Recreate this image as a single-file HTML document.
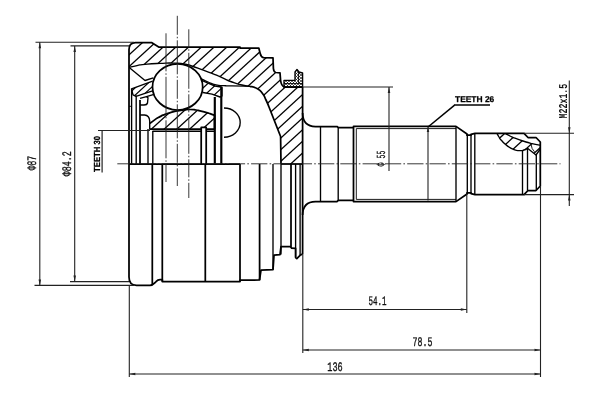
<!DOCTYPE html>
<html lang="en"><head><meta charset="utf-8"><title>CV joint drawing</title><style>html,body{margin:0;padding:0;background:#fff;}body{width:600px;height:400px;overflow:hidden;}svg{display:block;filter:grayscale(1);}</style></head><body>
<svg width="600" height="400" viewBox="0 0 600 400" stroke-linecap="butt" stroke-linejoin="round" text-rendering="geometricPrecision"><defs><clipPath id="h1"><path d="M129,67.5 L129,49.5 C129,45 131,42.5 135.5,42.5 L151.5,42.5 L158.7,47 L240,47 L240,48 L258.8,48 L260.2,53.5 Q261,57 263.5,57.6 L273,57.8 L273.4,68.5 Q273.8,72.2 276,72.5 L280,72.8 L280.6,80.5 Q281.3,85.5 284,87 L302.6,87 L302.6,164 L281,164 L280.60,136.50 L269.00,107.00 L266.00,100.00 L262.50,93.50 L257.00,88.50 L250.00,86.30 L242.00,85.00 L232.00,82.00 L222.00,77.60 L215.00,74.60 L203.30,70.20 L191.70,66.00 L184.00,64.00 L174.00,63.10 L160.00,63.40 L145.00,64.40 L137.00,65.60 L129.00,67.50 Z"/></clipPath><clipPath id="h2"><path d="M150.00,123.50 C151.67,122.20 151.67,121.90 155.00,119.60 C158.33,117.30 156.67,118.33 160.00,116.60 C163.33,114.87 161.33,115.80 165.00,114.40 C168.67,113.00 167.00,113.53 171.00,112.40 C175.00,111.27 172.67,111.83 177.00,111.00 C181.33,110.17 179.67,110.40 184.00,109.90 C188.33,109.40 186.00,109.47 190.00,109.50 C194.00,109.53 192.67,109.53 196.00,110.00 C199.33,110.47 197.00,110.20 200.00,110.90 C203.00,111.60 201.67,111.20 205.00,112.10 C208.33,113.00 206.83,112.53 210.00,113.60 C213.17,114.67 213.00,114.73 214.50,115.30 L214.5,129 L150,129 Z"/></clipPath><clipPath id="h3"><path d="M131.5,88.8 L152.6,81.2 L152.1,86 L152.5,90.8 L136,96.4 L133,94.8 Z"/></clipPath><clipPath id="h4"><path d="M201.8,80.3 L208,83.2 L215,86 L221,87 L222,87.5 L222,96.5 L220,97 L212,94.2 L203,92.5 Z"/></clipPath><clipPath id="h5"><path d="M497.00,133.50 C497.67,134.67 497.57,134.73 499.00,137.00 C500.43,139.27 498.63,137.43 501.30,140.30 C503.97,143.17 502.77,142.50 507.00,145.60 C511.23,148.70 509.67,147.93 514.00,149.60 C518.33,151.27 516.67,150.47 520.00,150.60 C523.33,150.73 521.50,150.77 524.00,150.00 C526.50,149.23 526.33,148.87 527.50,148.30 L536,155 L540.3,149 L540.3,145.2 L532.00,143.60 L523.00,141.00 L515.00,138.10 L510.00,136.00 L505.00,133.50 Z"/></clipPath><clipPath id="h6"><path d="M284,80.3 L295,80.3 L295,72 L297,69.5 L299,72 L302.6,73 L302.6,87 L284,87 Z"/></clipPath></defs><rect width="600" height="400" fill="#fff"/><g clip-path="url(#h1)" stroke="#000" stroke-width="1.3" fill="none"><line x1="-71.05" y1="180.00" x2="92.45" y2="30.00"/><line x1="-58.30" y1="180.00" x2="105.20" y2="30.00"/><line x1="-45.55" y1="180.00" x2="117.95" y2="30.00"/><line x1="-32.80" y1="180.00" x2="130.70" y2="30.00"/><line x1="-20.05" y1="180.00" x2="143.45" y2="30.00"/><line x1="-7.30" y1="180.00" x2="156.20" y2="30.00"/><line x1="5.45" y1="180.00" x2="168.95" y2="30.00"/><line x1="18.20" y1="180.00" x2="181.70" y2="30.00"/><line x1="30.95" y1="180.00" x2="194.45" y2="30.00"/><line x1="43.70" y1="180.00" x2="207.20" y2="30.00"/><line x1="56.45" y1="180.00" x2="219.95" y2="30.00"/><line x1="69.20" y1="180.00" x2="232.70" y2="30.00"/><line x1="81.95" y1="180.00" x2="245.45" y2="30.00"/><line x1="94.70" y1="180.00" x2="258.20" y2="30.00"/><line x1="107.45" y1="180.00" x2="270.95" y2="30.00"/><line x1="120.20" y1="180.00" x2="283.70" y2="30.00"/><line x1="132.95" y1="180.00" x2="296.45" y2="30.00"/><line x1="145.70" y1="180.00" x2="309.20" y2="30.00"/><line x1="158.45" y1="180.00" x2="321.95" y2="30.00"/><line x1="171.20" y1="180.00" x2="334.70" y2="30.00"/><line x1="183.95" y1="180.00" x2="347.45" y2="30.00"/><line x1="196.70" y1="180.00" x2="360.20" y2="30.00"/><line x1="209.45" y1="180.00" x2="372.95" y2="30.00"/><line x1="222.20" y1="180.00" x2="385.70" y2="30.00"/><line x1="234.95" y1="180.00" x2="398.45" y2="30.00"/><line x1="247.70" y1="180.00" x2="411.20" y2="30.00"/><line x1="260.45" y1="180.00" x2="423.95" y2="30.00"/><line x1="273.20" y1="180.00" x2="436.70" y2="30.00"/><line x1="285.95" y1="180.00" x2="449.45" y2="30.00"/><line x1="298.70" y1="180.00" x2="462.20" y2="30.00"/><line x1="311.45" y1="180.00" x2="474.95" y2="30.00"/><line x1="324.20" y1="180.00" x2="487.70" y2="30.00"/></g>
<g clip-path="url(#h2)" stroke="#000" stroke-width="1.3" fill="none"><line x1="-69.80" y1="180.00" x2="93.70" y2="30.00"/><line x1="-57.05" y1="180.00" x2="106.45" y2="30.00"/><line x1="-44.30" y1="180.00" x2="119.20" y2="30.00"/><line x1="-31.55" y1="180.00" x2="131.95" y2="30.00"/><line x1="-18.80" y1="180.00" x2="144.70" y2="30.00"/><line x1="-6.05" y1="180.00" x2="157.45" y2="30.00"/><line x1="6.70" y1="180.00" x2="170.20" y2="30.00"/><line x1="19.45" y1="180.00" x2="182.95" y2="30.00"/><line x1="32.20" y1="180.00" x2="195.70" y2="30.00"/><line x1="44.95" y1="180.00" x2="208.45" y2="30.00"/><line x1="57.70" y1="180.00" x2="221.20" y2="30.00"/><line x1="70.45" y1="180.00" x2="233.95" y2="30.00"/><line x1="83.20" y1="180.00" x2="246.70" y2="30.00"/><line x1="95.95" y1="180.00" x2="259.45" y2="30.00"/><line x1="108.70" y1="180.00" x2="272.20" y2="30.00"/><line x1="121.45" y1="180.00" x2="284.95" y2="30.00"/><line x1="134.20" y1="180.00" x2="297.70" y2="30.00"/><line x1="146.95" y1="180.00" x2="310.45" y2="30.00"/><line x1="159.70" y1="180.00" x2="323.20" y2="30.00"/><line x1="172.45" y1="180.00" x2="335.95" y2="30.00"/><line x1="185.20" y1="180.00" x2="348.70" y2="30.00"/><line x1="197.95" y1="180.00" x2="361.45" y2="30.00"/><line x1="210.70" y1="180.00" x2="374.20" y2="30.00"/><line x1="223.45" y1="180.00" x2="386.95" y2="30.00"/><line x1="236.20" y1="180.00" x2="399.70" y2="30.00"/><line x1="248.95" y1="180.00" x2="412.45" y2="30.00"/><line x1="261.70" y1="180.00" x2="425.20" y2="30.00"/><line x1="274.45" y1="180.00" x2="437.95" y2="30.00"/><line x1="287.20" y1="180.00" x2="450.70" y2="30.00"/><line x1="299.95" y1="180.00" x2="463.45" y2="30.00"/><line x1="312.70" y1="180.00" x2="476.20" y2="30.00"/><line x1="325.45" y1="180.00" x2="488.95" y2="30.00"/></g>
<g clip-path="url(#h3)" stroke="#000" stroke-width="1.2" fill="none"><line x1="-68.50" y1="180.00" x2="93.50" y2="30.00"/><line x1="-60.50" y1="180.00" x2="101.50" y2="30.00"/><line x1="-52.50" y1="180.00" x2="109.50" y2="30.00"/><line x1="-44.50" y1="180.00" x2="117.50" y2="30.00"/><line x1="-36.50" y1="180.00" x2="125.50" y2="30.00"/><line x1="-28.50" y1="180.00" x2="133.50" y2="30.00"/><line x1="-20.50" y1="180.00" x2="141.50" y2="30.00"/><line x1="-12.50" y1="180.00" x2="149.50" y2="30.00"/><line x1="-4.50" y1="180.00" x2="157.50" y2="30.00"/><line x1="3.50" y1="180.00" x2="165.50" y2="30.00"/><line x1="11.50" y1="180.00" x2="173.50" y2="30.00"/><line x1="19.50" y1="180.00" x2="181.50" y2="30.00"/><line x1="27.50" y1="180.00" x2="189.50" y2="30.00"/><line x1="35.50" y1="180.00" x2="197.50" y2="30.00"/><line x1="43.50" y1="180.00" x2="205.50" y2="30.00"/><line x1="51.50" y1="180.00" x2="213.50" y2="30.00"/><line x1="59.50" y1="180.00" x2="221.50" y2="30.00"/><line x1="67.50" y1="180.00" x2="229.50" y2="30.00"/><line x1="75.50" y1="180.00" x2="237.50" y2="30.00"/><line x1="83.50" y1="180.00" x2="245.50" y2="30.00"/><line x1="91.50" y1="180.00" x2="253.50" y2="30.00"/><line x1="99.50" y1="180.00" x2="261.50" y2="30.00"/><line x1="107.50" y1="180.00" x2="269.50" y2="30.00"/><line x1="115.50" y1="180.00" x2="277.50" y2="30.00"/><line x1="123.50" y1="180.00" x2="285.50" y2="30.00"/><line x1="131.50" y1="180.00" x2="293.50" y2="30.00"/><line x1="139.50" y1="180.00" x2="301.50" y2="30.00"/><line x1="147.50" y1="180.00" x2="309.50" y2="30.00"/><line x1="155.50" y1="180.00" x2="317.50" y2="30.00"/><line x1="163.50" y1="180.00" x2="325.50" y2="30.00"/><line x1="171.50" y1="180.00" x2="333.50" y2="30.00"/><line x1="179.50" y1="180.00" x2="341.50" y2="30.00"/><line x1="187.50" y1="180.00" x2="349.50" y2="30.00"/><line x1="195.50" y1="180.00" x2="357.50" y2="30.00"/><line x1="203.50" y1="180.00" x2="365.50" y2="30.00"/><line x1="211.50" y1="180.00" x2="373.50" y2="30.00"/><line x1="219.50" y1="180.00" x2="381.50" y2="30.00"/><line x1="227.50" y1="180.00" x2="389.50" y2="30.00"/><line x1="235.50" y1="180.00" x2="397.50" y2="30.00"/><line x1="243.50" y1="180.00" x2="405.50" y2="30.00"/><line x1="251.50" y1="180.00" x2="413.50" y2="30.00"/><line x1="259.50" y1="180.00" x2="421.50" y2="30.00"/><line x1="267.50" y1="180.00" x2="429.50" y2="30.00"/><line x1="275.50" y1="180.00" x2="437.50" y2="30.00"/><line x1="283.50" y1="180.00" x2="445.50" y2="30.00"/><line x1="291.50" y1="180.00" x2="453.50" y2="30.00"/><line x1="299.50" y1="180.00" x2="461.50" y2="30.00"/><line x1="307.50" y1="180.00" x2="469.50" y2="30.00"/><line x1="315.50" y1="180.00" x2="477.50" y2="30.00"/><line x1="323.50" y1="180.00" x2="485.50" y2="30.00"/></g>
<g clip-path="url(#h4)" stroke="#000" stroke-width="1.2" fill="none"><line x1="-65.60" y1="180.00" x2="96.40" y2="30.00"/><line x1="-56.20" y1="180.00" x2="105.80" y2="30.00"/><line x1="-46.80" y1="180.00" x2="115.20" y2="30.00"/><line x1="-37.40" y1="180.00" x2="124.60" y2="30.00"/><line x1="-28.00" y1="180.00" x2="134.00" y2="30.00"/><line x1="-18.60" y1="180.00" x2="143.40" y2="30.00"/><line x1="-9.20" y1="180.00" x2="152.80" y2="30.00"/><line x1="0.20" y1="180.00" x2="162.20" y2="30.00"/><line x1="9.60" y1="180.00" x2="171.60" y2="30.00"/><line x1="19.00" y1="180.00" x2="181.00" y2="30.00"/><line x1="28.40" y1="180.00" x2="190.40" y2="30.00"/><line x1="37.80" y1="180.00" x2="199.80" y2="30.00"/><line x1="47.20" y1="180.00" x2="209.20" y2="30.00"/><line x1="56.60" y1="180.00" x2="218.60" y2="30.00"/><line x1="66.00" y1="180.00" x2="228.00" y2="30.00"/><line x1="75.40" y1="180.00" x2="237.40" y2="30.00"/><line x1="84.80" y1="180.00" x2="246.80" y2="30.00"/><line x1="94.20" y1="180.00" x2="256.20" y2="30.00"/><line x1="103.60" y1="180.00" x2="265.60" y2="30.00"/><line x1="113.00" y1="180.00" x2="275.00" y2="30.00"/><line x1="122.40" y1="180.00" x2="284.40" y2="30.00"/><line x1="131.80" y1="180.00" x2="293.80" y2="30.00"/><line x1="141.20" y1="180.00" x2="303.20" y2="30.00"/><line x1="150.60" y1="180.00" x2="312.60" y2="30.00"/><line x1="160.00" y1="180.00" x2="322.00" y2="30.00"/><line x1="169.40" y1="180.00" x2="331.40" y2="30.00"/><line x1="178.80" y1="180.00" x2="340.80" y2="30.00"/><line x1="188.20" y1="180.00" x2="350.20" y2="30.00"/><line x1="197.60" y1="180.00" x2="359.60" y2="30.00"/><line x1="207.00" y1="180.00" x2="369.00" y2="30.00"/><line x1="216.40" y1="180.00" x2="378.40" y2="30.00"/><line x1="225.80" y1="180.00" x2="387.80" y2="30.00"/><line x1="235.20" y1="180.00" x2="397.20" y2="30.00"/><line x1="244.60" y1="180.00" x2="406.60" y2="30.00"/><line x1="254.00" y1="180.00" x2="416.00" y2="30.00"/><line x1="263.40" y1="180.00" x2="425.40" y2="30.00"/><line x1="272.80" y1="180.00" x2="434.80" y2="30.00"/><line x1="282.20" y1="180.00" x2="444.20" y2="30.00"/><line x1="291.60" y1="180.00" x2="453.60" y2="30.00"/><line x1="301.00" y1="180.00" x2="463.00" y2="30.00"/><line x1="310.40" y1="180.00" x2="472.40" y2="30.00"/><line x1="319.80" y1="180.00" x2="481.80" y2="30.00"/><line x1="329.20" y1="180.00" x2="491.20" y2="30.00"/></g>
<path d="M129,164 L129,49.5 C129,45 131,42.5 135.5,42.5 L151.5,42.5 L158.7,47 L240,47 L240,48 L258.8,48 L260.2,53.5 Q261,57 263.5,57.6 L273,57.8 L273.4,68.5 Q273.8,72.2 276,72.5 L280,72.8 L280.6,80.5 Q281.3,85.5 284,87 L302.6,87" fill="none" stroke="#000" stroke-width="1.75" />
<path d="M129.00,67.50 C131.67,66.87 131.67,66.63 137.00,65.60 C142.33,64.57 137.33,65.13 145.00,64.40 C152.67,63.67 150.33,63.83 160.00,63.40 C169.67,62.97 166.00,62.90 174.00,63.10 C182.00,63.30 178.10,63.03 184.00,64.00 C189.90,64.97 185.27,63.93 191.70,66.00 C198.13,68.07 195.53,67.33 203.30,70.20 C211.07,73.07 208.77,72.13 215.00,74.60 C221.23,77.07 216.33,75.13 222.00,77.60 C227.67,80.07 225.33,79.53 232.00,82.00 C238.67,84.47 236.00,83.57 242.00,85.00 C248.00,86.43 247.33,85.87 250.00,86.30" fill="none" stroke="#000" stroke-width="1.35" />
<path d="M250.00,86.30 C252.33,87.03 252.83,86.10 257.00,88.50 C261.17,90.90 259.50,89.67 262.50,93.50 C265.50,97.33 263.83,95.50 266.00,100.00 C268.17,104.50 268.00,104.67 269.00,107.00 L280.60,136.50 L281.00,164.00" fill="none" stroke="#000" stroke-width="1.75" />
<path d="M200.50,78.30 C203.00,79.53 202.83,79.80 208.00,82.00 C213.17,84.20 210.67,83.67 216.00,84.90 C221.33,86.13 218.67,85.37 224.00,85.70 C229.33,86.03 223.33,85.70 232.00,85.90 C240.67,86.10 244.00,86.17 250.00,86.30" fill="none" stroke="#000" stroke-width="1.35" />
<ellipse cx="177.6" cy="86.9" rx="25.1" ry="23.1" fill="#fff" stroke="#000" stroke-width="1.75"/>
<path d="M129.5,67.8 L145,80.5 L153.3,77.8" fill="none" stroke="#000" stroke-width="1.35" />
<path d="M152.6,81.2 L131.5,88.8 L133,94.8 L136,96.4 L152.5,90.8" fill="none" stroke="#000" stroke-width="1.35" />
<path d="M146.5,96.6 L154,94.3" fill="none" stroke="#000" stroke-width="1.35" />
<path d="M140,98.4 L146.5,96.6 L148,97.8 L147.5,103 Q147,105 144,105 L140,105" fill="none" stroke="#000" stroke-width="1.35" />
<line x1="129.00" y1="106.30" x2="131.60" y2="106.30" stroke="#000" stroke-width="0.9" />
<path d="M201.8,80.3 L208,83.2 L215,86 L221,87 L222,87.5 L222,96.5" fill="none" stroke="#000" stroke-width="1.35" />
<path d="M203,92.5 L212,94.2 L220,97 L222,96.5" fill="none" stroke="#000" stroke-width="1.35" />
<path d="M150.00,123.50 C151.67,122.20 151.67,121.90 155.00,119.60 C158.33,117.30 156.67,118.33 160.00,116.60 C163.33,114.87 161.33,115.80 165.00,114.40 C168.67,113.00 167.00,113.53 171.00,112.40 C175.00,111.27 172.67,111.83 177.00,111.00 C181.33,110.17 179.67,110.40 184.00,109.90 C188.33,109.40 186.00,109.47 190.00,109.50 C194.00,109.53 192.67,109.53 196.00,110.00 C199.33,110.47 197.00,110.20 200.00,110.90 C203.00,111.60 201.67,111.20 205.00,112.10 C208.33,113.00 206.83,112.53 210.00,113.60 C213.17,114.67 213.00,114.73 214.50,115.30 L214.5,129" fill="none" stroke="#000" stroke-width="1.75" />
<path d="M140,115 L144.5,115 Q149.5,115.5 149.7,121 L149.7,129.5" fill="none" stroke="#000" stroke-width="1.35" />
<line x1="149.50" y1="129.20" x2="214.50" y2="129.20" stroke="#000" stroke-width="1.75" />
<line x1="152.50" y1="131.20" x2="214.50" y2="131.20" stroke="#000" stroke-width="1.35" />
<line x1="131.60" y1="89.00" x2="131.60" y2="164.00" stroke="#000" stroke-width="1.35" />
<line x1="136.20" y1="95.50" x2="136.20" y2="164.00" stroke="#000" stroke-width="1.35" />
<line x1="140.00" y1="100.00" x2="140.00" y2="164.00" stroke="#000" stroke-width="1.75" />
<line x1="148.00" y1="129.00" x2="148.00" y2="164.00" stroke="#000" stroke-width="1.35" />
<line x1="152.80" y1="131.00" x2="152.80" y2="164.00" stroke="#000" stroke-width="1.35" />
<path d="M201.2,164 L201.2,127.4 L206.2,127.4 L206.2,164" fill="#fff" stroke="#000" stroke-width="1.75" />
<line x1="214.80" y1="97.00" x2="214.80" y2="164.00" stroke="#000" stroke-width="2.15" />
<line x1="221.30" y1="86.50" x2="221.30" y2="164.00" stroke="#000" stroke-width="2.15" />
<path d="M224,108 A16.2,14.6 0 0 1 224,137.2" fill="none" stroke="#000" stroke-width="1.35" />
<line x1="129.00" y1="164.00" x2="240.00" y2="164.00" stroke="#000" stroke-width="1.75" />
<line x1="281.00" y1="164.00" x2="302.60" y2="164.00" stroke="#000" stroke-width="1.75" />
<path d="M129,164 L129,277 C129,282.5 131.5,285.3 136.5,285.3 L150,285.3 C153,285.3 154,283.6 156,281.6 C157.5,280 158.3,279.7 160,279.7 L162.3,279.7 L162.3,281.5 L240,281.5 L240,280.2 L259.5,280 L261,270.2 L273,269.6 L274,255.2 L280,254.6 L281,246.6 L291,246.6" fill="none" stroke="#000" stroke-width="1.75" />
<path d="M291,248.2 L295.6,248.4 L295.6,257.6 L296.8,258.6 L300.1,255.3 L302.6,254" fill="none" stroke="#000" stroke-width="1.75" />
<line x1="152.30" y1="164.00" x2="152.30" y2="284.60" stroke="#000" stroke-width="1.75" />
<line x1="162.30" y1="164.00" x2="162.30" y2="281.50" stroke="#000" stroke-width="1.75" />
<line x1="205.30" y1="164.00" x2="205.30" y2="281.50" stroke="#000" stroke-width="1.75" />
<line x1="240.00" y1="164.00" x2="240.00" y2="281.50" stroke="#000" stroke-width="1.75" />
<line x1="259.60" y1="164.00" x2="259.60" y2="280.00" stroke="#000" stroke-width="1.75" />
<line x1="273.00" y1="164.00" x2="273.00" y2="269.60" stroke="#000" stroke-width="1.35" />
<line x1="281.00" y1="164.00" x2="281.00" y2="254.60" stroke="#000" stroke-width="1.35" />
<line x1="291.00" y1="164.00" x2="291.00" y2="248.20" stroke="#000" stroke-width="1.75" />
<line x1="295.60" y1="164.00" x2="295.60" y2="257.00" stroke="#000" stroke-width="1.35" />
<line x1="300.10" y1="164.00" x2="300.10" y2="255.30" stroke="#000" stroke-width="1.35" />
<path d="M302.6,87 L302.6,254" fill="none" stroke="#000" stroke-width="1.75" />
<path d="M302.6,113 Q302.8,126.5 315.5,126.5 L337,126.5 L338.5,127.6 L353.5,127.6" fill="none" stroke="#000" stroke-width="1.75" />
<path d="M302.6,215 Q302.8,201.5 315.5,201.5 L337,201.5 L338.5,200.4 L353.5,200.4" fill="none" stroke="#000" stroke-width="1.75" />
<line x1="320.50" y1="126.50" x2="320.50" y2="201.50" stroke="#000" stroke-width="1.35" />
<line x1="338.20" y1="127.00" x2="338.20" y2="201.00" stroke="#000" stroke-width="1.35" />
<path d="M353.5,126.4 L456,126.4 L467,134 L467,135.2 L471,135.2 L471,134.4 L475,133.3 L524,133.3 L528,137.5 L536,137.5 L540.3,142 L540.3,186 L536,190.5 L528,190.5 L524,194.7 L475,194.7 L471,193.6 L471,192.8 L467,192.8 L467,194 L456,201.6 L353.5,201.6 Z" fill="none" stroke="#000" stroke-width="1.75" />
<line x1="356.30" y1="128.60" x2="456.00" y2="128.60" stroke="#000" stroke-width="0.9" />
<line x1="356.30" y1="199.40" x2="456.00" y2="199.40" stroke="#000" stroke-width="0.9" />
<line x1="356.30" y1="128.60" x2="356.30" y2="199.40" stroke="#000" stroke-width="0.9" />
<line x1="456.00" y1="126.40" x2="456.00" y2="201.60" stroke="#000" stroke-width="1.35" />
<line x1="467.30" y1="134.00" x2="467.30" y2="194.00" stroke="#000" stroke-width="1.35" />
<line x1="471.00" y1="134.40" x2="471.00" y2="193.60" stroke="#000" stroke-width="1.35" />
<line x1="474.80" y1="133.30" x2="474.80" y2="194.70" stroke="#000" stroke-width="1.35" />
<line x1="522.50" y1="150.30" x2="522.50" y2="194.70" stroke="#000" stroke-width="1.35" />
<line x1="527.50" y1="148.30" x2="527.50" y2="190.50" stroke="#000" stroke-width="1.35" />
<line x1="536.30" y1="155.00" x2="536.30" y2="190.50" stroke="#000" stroke-width="1.35" />
<g clip-path="url(#h5)" stroke="#000" stroke-width="1.3" fill="none"><line x1="413.85" y1="170.00" x2="468.35" y2="120.00"/><line x1="426.60" y1="170.00" x2="481.10" y2="120.00"/><line x1="439.35" y1="170.00" x2="493.85" y2="120.00"/><line x1="452.10" y1="170.00" x2="506.60" y2="120.00"/><line x1="464.85" y1="170.00" x2="519.35" y2="120.00"/><line x1="477.60" y1="170.00" x2="532.10" y2="120.00"/><line x1="490.35" y1="170.00" x2="544.85" y2="120.00"/><line x1="503.10" y1="170.00" x2="557.60" y2="120.00"/><line x1="515.85" y1="170.00" x2="570.35" y2="120.00"/><line x1="528.60" y1="170.00" x2="583.10" y2="120.00"/><line x1="541.35" y1="170.00" x2="595.85" y2="120.00"/><line x1="554.10" y1="170.00" x2="608.60" y2="120.00"/><line x1="566.85" y1="170.00" x2="621.35" y2="120.00"/></g>
<path d="M497.00,133.50 C497.67,134.67 497.57,134.73 499.00,137.00 C500.43,139.27 498.63,137.43 501.30,140.30 C503.97,143.17 502.77,142.50 507.00,145.60 C511.23,148.70 509.67,147.93 514.00,149.60 C518.33,151.27 516.67,150.47 520.00,150.60 C523.33,150.73 521.50,150.77 524.00,150.00 C526.50,149.23 526.33,148.87 527.50,148.30 L536,155 L540.3,149" fill="none" stroke="#000" stroke-width="1.35" />
<path d="M505.00,133.50 C506.67,134.33 506.67,134.47 510.00,136.00 C513.33,137.53 510.67,136.43 515.00,138.10 C519.33,139.77 517.33,139.17 523.00,141.00 C528.67,142.83 526.23,142.20 532.00,143.60 C537.77,145.00 537.53,144.67 540.30,145.20" fill="none" stroke="#000" stroke-width="1.35" />
<path d="M531,144.2 Q531.5,149 534.5,151.8" fill="none" stroke="#000" stroke-width="0.9" />
<g clip-path="url(#h6)" stroke="#000" stroke-width="0.6" fill="none"><line x1="253.00" y1="90.00" x2="277.00" y2="66.00"/><line x1="253.00" y1="66.00" x2="277.00" y2="90.00"/><line x1="256.00" y1="90.00" x2="280.00" y2="66.00"/><line x1="256.00" y1="66.00" x2="280.00" y2="90.00"/><line x1="259.00" y1="90.00" x2="283.00" y2="66.00"/><line x1="259.00" y1="66.00" x2="283.00" y2="90.00"/><line x1="262.00" y1="90.00" x2="286.00" y2="66.00"/><line x1="262.00" y1="66.00" x2="286.00" y2="90.00"/><line x1="265.00" y1="90.00" x2="289.00" y2="66.00"/><line x1="265.00" y1="66.00" x2="289.00" y2="90.00"/><line x1="268.00" y1="90.00" x2="292.00" y2="66.00"/><line x1="268.00" y1="66.00" x2="292.00" y2="90.00"/><line x1="271.00" y1="90.00" x2="295.00" y2="66.00"/><line x1="271.00" y1="66.00" x2="295.00" y2="90.00"/><line x1="274.00" y1="90.00" x2="298.00" y2="66.00"/><line x1="274.00" y1="66.00" x2="298.00" y2="90.00"/><line x1="277.00" y1="90.00" x2="301.00" y2="66.00"/><line x1="277.00" y1="66.00" x2="301.00" y2="90.00"/><line x1="280.00" y1="90.00" x2="304.00" y2="66.00"/><line x1="280.00" y1="66.00" x2="304.00" y2="90.00"/><line x1="283.00" y1="90.00" x2="307.00" y2="66.00"/><line x1="283.00" y1="66.00" x2="307.00" y2="90.00"/><line x1="286.00" y1="90.00" x2="310.00" y2="66.00"/><line x1="286.00" y1="66.00" x2="310.00" y2="90.00"/><line x1="289.00" y1="90.00" x2="313.00" y2="66.00"/><line x1="289.00" y1="66.00" x2="313.00" y2="90.00"/><line x1="292.00" y1="90.00" x2="316.00" y2="66.00"/><line x1="292.00" y1="66.00" x2="316.00" y2="90.00"/><line x1="295.00" y1="90.00" x2="319.00" y2="66.00"/><line x1="295.00" y1="66.00" x2="319.00" y2="90.00"/><line x1="298.00" y1="90.00" x2="322.00" y2="66.00"/><line x1="298.00" y1="66.00" x2="322.00" y2="90.00"/><line x1="301.00" y1="90.00" x2="325.00" y2="66.00"/><line x1="301.00" y1="66.00" x2="325.00" y2="90.00"/><line x1="304.00" y1="90.00" x2="328.00" y2="66.00"/><line x1="304.00" y1="66.00" x2="328.00" y2="90.00"/><line x1="307.00" y1="90.00" x2="331.00" y2="66.00"/><line x1="307.00" y1="66.00" x2="331.00" y2="90.00"/></g>
<path d="M284,80.3 L295,80.3 L295,72 L297,69.5 L299,72 L302.6,73 L302.6,87 L284,87 Z" fill="none" stroke="#000" stroke-width="1.35" />
<line x1="284.00" y1="83.60" x2="302.00" y2="83.60" stroke="#000" stroke-width="0.9" />
<line x1="298.60" y1="72.00" x2="298.60" y2="83.00" stroke="#000" stroke-width="0.9" />
<line x1="117.30" y1="163.80" x2="560.50" y2="163.80" stroke="#222" stroke-width="0.9" stroke-dasharray="16.3 2.2 1.6 2.2"/>
<line x1="166.00" y1="33.30" x2="166.00" y2="182.00" stroke="#222" stroke-width="0.9" stroke-dasharray="38 2 1.5 2"/>
<line x1="177.30" y1="15.80" x2="177.30" y2="186.00" stroke="#222" stroke-width="0.9" stroke-dasharray="19 2 1.5 2 34 2 1.5 2"/>
<line x1="188.80" y1="29.30" x2="188.80" y2="198.00" stroke="#222" stroke-width="0.9" stroke-dasharray="18 2 1.5 2 36 2 1.5 2"/>
<line x1="35.50" y1="42.30" x2="134.00" y2="42.30" stroke="#222" stroke-width="1.1" />
<line x1="34.50" y1="285.40" x2="134.00" y2="285.40" stroke="#222" stroke-width="1.1" />
<line x1="39.80" y1="42.30" x2="39.80" y2="285.40" stroke="#222" stroke-width="1.1" />
<polygon points="39.80,42.30 41.05,48.30 38.55,48.30" fill="#222"/>
<polygon points="39.80,285.40 38.55,279.40 41.05,279.40" fill="#222"/>
<line x1="70.50" y1="45.90" x2="129.00" y2="45.90" stroke="#222" stroke-width="1.1" />
<line x1="70.00" y1="281.60" x2="129.00" y2="281.60" stroke="#222" stroke-width="1.1" />
<line x1="74.70" y1="45.90" x2="74.70" y2="281.60" stroke="#222" stroke-width="1.1" />
<polygon points="74.70,45.90 75.95,51.90 73.45,51.90" fill="#222"/>
<polygon points="74.70,281.60 73.45,275.60 75.95,275.60" fill="#222"/>
<line x1="98.00" y1="130.50" x2="150.00" y2="130.50" stroke="#222" stroke-width="1.1" />
<line x1="102.10" y1="130.40" x2="102.10" y2="172.50" stroke="#222" stroke-width="1.2" />
<line x1="129.30" y1="285.00" x2="129.30" y2="377.00" stroke="#222" stroke-width="1.1" />
<line x1="540.50" y1="186.00" x2="540.50" y2="377.00" stroke="#222" stroke-width="1.1" />
<line x1="129.30" y1="374.00" x2="540.50" y2="374.00" stroke="#222" stroke-width="1.1" />
<polygon points="129.30,374.00 135.30,372.75 135.30,375.25" fill="#222"/>
<polygon points="540.50,374.00 534.50,375.25 534.50,372.75" fill="#222"/>
<line x1="302.80" y1="254.00" x2="302.80" y2="353.00" stroke="#222" stroke-width="1.1" />
<line x1="302.80" y1="350.00" x2="540.50" y2="350.00" stroke="#222" stroke-width="1.1" />
<polygon points="302.80,350.00 308.80,348.75 308.80,351.25" fill="#222"/>
<polygon points="540.50,350.00 534.50,351.25 534.50,348.75" fill="#222"/>
<line x1="466.80" y1="194.00" x2="466.80" y2="313.00" stroke="#222" stroke-width="1.1" />
<line x1="302.80" y1="309.50" x2="466.80" y2="309.50" stroke="#222" stroke-width="1.1" />
<polygon points="302.80,309.50 308.80,308.25 308.80,310.75" fill="#222"/>
<polygon points="466.80,309.50 460.80,310.75 460.80,308.25" fill="#222"/>
<line x1="302.60" y1="87.00" x2="393.00" y2="87.00" stroke="#222" stroke-width="1.1" />
<line x1="389.00" y1="87.00" x2="389.00" y2="171.00" stroke="#222" stroke-width="1.1" />
<polygon points="389.00,87.00 390.25,93.00 387.75,93.00" fill="#222"/>
<line x1="428.00" y1="127.00" x2="428.00" y2="200.50" stroke="#222" stroke-width="1.1" />
<polygon points="428.00,127.00 429.25,132.00 426.75,132.00" fill="#222"/>
<line x1="428.00" y1="127.00" x2="454.60" y2="105.10" stroke="#000" stroke-width="1.5" />
<line x1="454.00" y1="105.10" x2="490.00" y2="105.10" stroke="#000" stroke-width="1.5" />
<line x1="524.00" y1="133.30" x2="574.00" y2="133.30" stroke="#222" stroke-width="1.1" />
<line x1="524.00" y1="194.60" x2="574.00" y2="194.60" stroke="#222" stroke-width="1.1" />
<line x1="569.30" y1="80.60" x2="569.30" y2="206.00" stroke="#222" stroke-width="1.1" />
<polygon points="569.30,133.30 568.05,127.30 570.55,127.30" fill="#222"/>
<polygon points="569.30,194.60 570.55,200.60 568.05,200.60" fill="#222"/>
<text transform="translate(368.40 304.70) scale(0.580 1)" font-family="'Liberation Mono', monospace" font-size="13.0" font-weight="normal" fill="#111" stroke="#111" stroke-width="0.35">54.1</text>
<text transform="translate(412.60 345.90) scale(0.640 1)" font-family="'Liberation Mono', monospace" font-size="13.0" font-weight="normal" fill="#111" stroke="#111" stroke-width="0.35">78.5</text>
<text transform="translate(327.30 370.80) scale(0.660 1)" font-family="'Liberation Mono', monospace" font-size="13.0" font-weight="normal" fill="#111" stroke="#111" stroke-width="0.35">136</text>
<text transform="translate(35.90 170.30) rotate(-90) scale(0.610 1)" font-family="'Liberation Mono', monospace" font-size="13.0" font-weight="normal" fill="#111" stroke="#111" stroke-width="0.35">Φ87</text>
<text transform="translate(70.80 176.30) rotate(-90) scale(0.645 1)" font-family="'Liberation Mono', monospace" font-size="13.0" font-weight="normal" fill="#111" stroke="#111" stroke-width="0.35">Φ84.2</text>
<text transform="translate(385.2 166.6) rotate(-90) scale(0.52 1)" font-family="'Liberation Mono', monospace" fill="#111" stroke="#111" stroke-width="0.2"><tspan font-size="12.4">Φ</tspan><tspan font-size="12.4" dx="8.2">55</tspan></text>
<text transform="translate(566.50 118.50) rotate(-90) scale(0.690 1)" font-family="'Liberation Mono', monospace" font-size="12" font-weight="bold" fill="#111" >M22x1.5</text>
<text transform="translate(455.00 101.90)" font-family="'Liberation Sans', sans-serif" font-size="8.4" font-weight="bold" fill="#000" textLength="39.3" lengthAdjust="spacingAndGlyphs" stroke="#000" stroke-width="0.25">TEETH 26</text>
<text transform="translate(99.50 171.90) rotate(-90)" font-family="'Liberation Sans', sans-serif" font-size="8.8" font-weight="bold" fill="#000" textLength="36" lengthAdjust="spacingAndGlyphs" stroke="#000" stroke-width="0.25">TEETH 30</text></svg>
</body></html>
